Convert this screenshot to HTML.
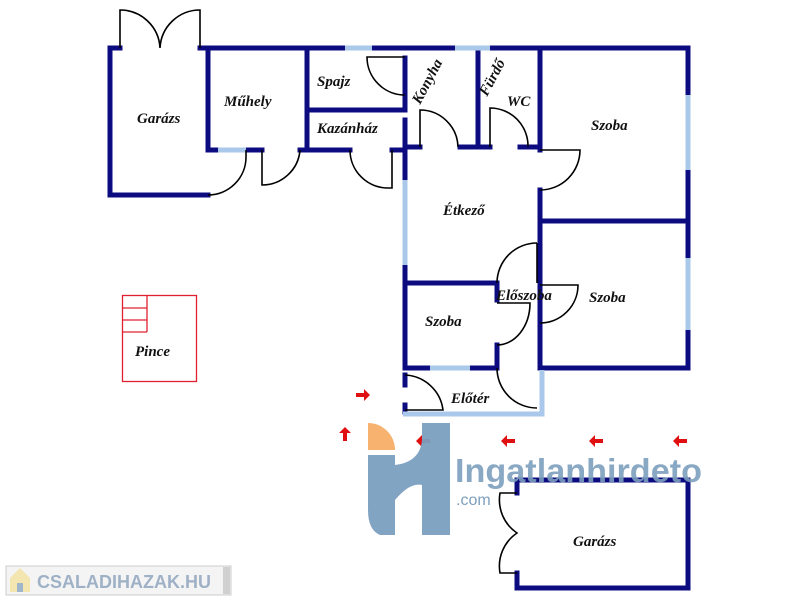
<!DOCTYPE html>
<html><head><meta charset="utf-8"><style>
html,body{margin:0;padding:0;background:#fff}
svg{display:block}
text{font-family:"Liberation Serif",serif;font-style:italic;font-weight:bold;font-size:15px;fill:#111}
</style></head><body>
<svg width="800" height="600" viewBox="0 0 800 600" xmlns="http://www.w3.org/2000/svg">
<g stroke="#0c0c80" stroke-width="5" fill="none" stroke-linecap="square">
<path d="M110 48 H120 M200 48 H345 M372 48 H455 M490 48 H688"/>
<path d="M110 48 V195 H208"/>
<path d="M208 48 V150 H218 M246 150 H262 M300 150 H350 M392 150 H405"/>
<path d="M307 48 V150 M307 110 H405"/>
<path d="M405 58 V110 M405 120 V180 M405 265 V368"/>
<path d="M405 147 H420 M460 147 H490 M520 147 H540"/>
<path d="M478 48 V147 M540 48 V150 M540 190 V368"/>
<path d="M688 48 V95 M688 170 V258 M688 330 V368"/>
<path d="M540 221 H688"/>
<path d="M405 283 H497 M497 283 V300 M497 345 V368"/>
<path d="M405 368 H430 M470 368 H497 M540 368 H688"/>
<path d="M405 375 V385 M405 405 V412"/>
<path d="M517 480 V493 M517 573 V588 H688 V480 H517"/>
</g>
<g stroke="#a9c8ea" stroke-width="5" fill="none">
<path d="M345 48 H372 M455 48 H490 M218 150 H246"/>
<path d="M405 180 V265 M688 95 V170 M688 258 V330 M430 368 H470"/>
<path d="M403 414 H542 V370"/>
</g>
<g stroke="#000" stroke-width="1.6" fill="none">
<path d="M120 48 V10 A40 40 0 0 1 160 48 A40 40 0 0 1 200 10 V48"/>
<path d="M208 195 A38 38 0 0 0 246 157 V150"/>
<path d="M262 150 V185 A38 38 0 0 0 300 150"/>
<path d="M350 150 A38 38 0 0 0 388 188 H392 V150"/>
<path d="M405 95 A38 38 0 0 1 367 57 H405"/>
<path d="M420 147 V110 A38 38 0 0 1 458 147"/>
<path d="M490 147 V108 A38 38 0 0 1 528 147"/>
<path d="M540 150 H580 A40 40 0 0 1 540 190"/>
<path d="M537 243 A40 40 0 0 0 497 283"/>
<path d="M537 243 V283"/>
<path d="M497 303 H530 A33 42 0 0 1 497 345"/>
<path d="M540 285 H578 A38 38 0 0 1 540 323"/>
<path d="M497 368 A40 40 0 0 0 537 408"/>
<path d="M405 375 A40 40 0 0 1 443 410 H405"/>
<path d="M517 493 H500 A40 40 0 0 0 517 533 A40 40 0 0 0 500 573 H517"/>
</g>
<g stroke="#e02030" stroke-width="1.3" fill="none">
<rect x="122.5" y="295.5" width="74" height="86"/>
<path d="M122 308 H147 M122 320 H147 M122 332 H147 M147 295 V332"/>
</g>
<text x="137" y="123">Garázs</text>
<text x="224" y="106">Műhely</text>
<text x="317" y="86">Spajz</text>
<text x="317" y="133">Kazánház</text>
<text x="420" y="105" transform="rotate(-62 420 105)">Konyha</text>
<text x="487" y="97" transform="rotate(-62 487 97)">Fürdő</text>
<text x="507" y="106">WC</text>
<text x="591" y="130">Szoba</text>
<text x="443" y="215">Étkező</text>
<text x="496" y="300">Előszoba</text>
<text x="589" y="302">Szoba</text>
<text x="425" y="326">Szoba</text>
<text x="451" y="403">Előtér</text>
<text x="135" y="356">Pince</text>
<text x="573" y="546">Garázs</text>
<g fill="#e01010">
<path d="M356 393 H364 V389 L370 395 L364 401 V397 H356Z"/>
<path d="M343 441 V433 H339 L345 427 L351 433 H347 V441Z"/>
<path d="M430 443 H422 V447 L416 441 L422 435 V439 H430Z"/>
<path d="M515 443 H507 V447 L501 441 L507 435 V439 H515Z"/>
<path d="M603 443 H595 V447 L589 441 L595 435 V439 H603Z"/>
<path d="M687 443 H679 V447 L673 441 L679 435 V439 H687Z"/>
</g>
<path d="M368 423 A27 27 0 0 1 395 450 H368Z" fill="#f6b26e"/>
<path d="M368 455 H395 V465 Q420 462 422 440 V423 H450 V535 H422 V485 Q410 482 395 500 V535 H380 Q368 530 368 510Z" fill="#7b9fc0" opacity="0.95"/>
<text x="455" y="482" textLength="247" lengthAdjust="spacingAndGlyphs" style="font-family:'Liberation Sans',sans-serif;font-style:normal;font-weight:bold;font-size:33px;fill:#7d9fbd;opacity:.9">Ingatlanhirdeto</text>
<text x="456" y="505" style="font-family:'Liberation Sans',sans-serif;font-style:normal;font-weight:normal;font-size:16px;fill:#7d9fbd">.com</text>
<rect x="6" y="566" width="225" height="29" fill="#f4f4f4" stroke="#ccc"/>
<rect x="223" y="567" width="7" height="27" fill="#d0d0d0"/>
<path d="M10 578 L20 568 L30 578 V592 H10Z" fill="#f3e6b0"/>
<rect x="17" y="583" width="6" height="9" fill="#9fb5cc"/>
<text x="37" y="588" style="font-family:'Liberation Sans',sans-serif;font-style:normal;font-weight:bold;font-size:18px;fill:#9fb1c6">CSALADIHAZAK.HU</text>
</svg>
</body></html>
